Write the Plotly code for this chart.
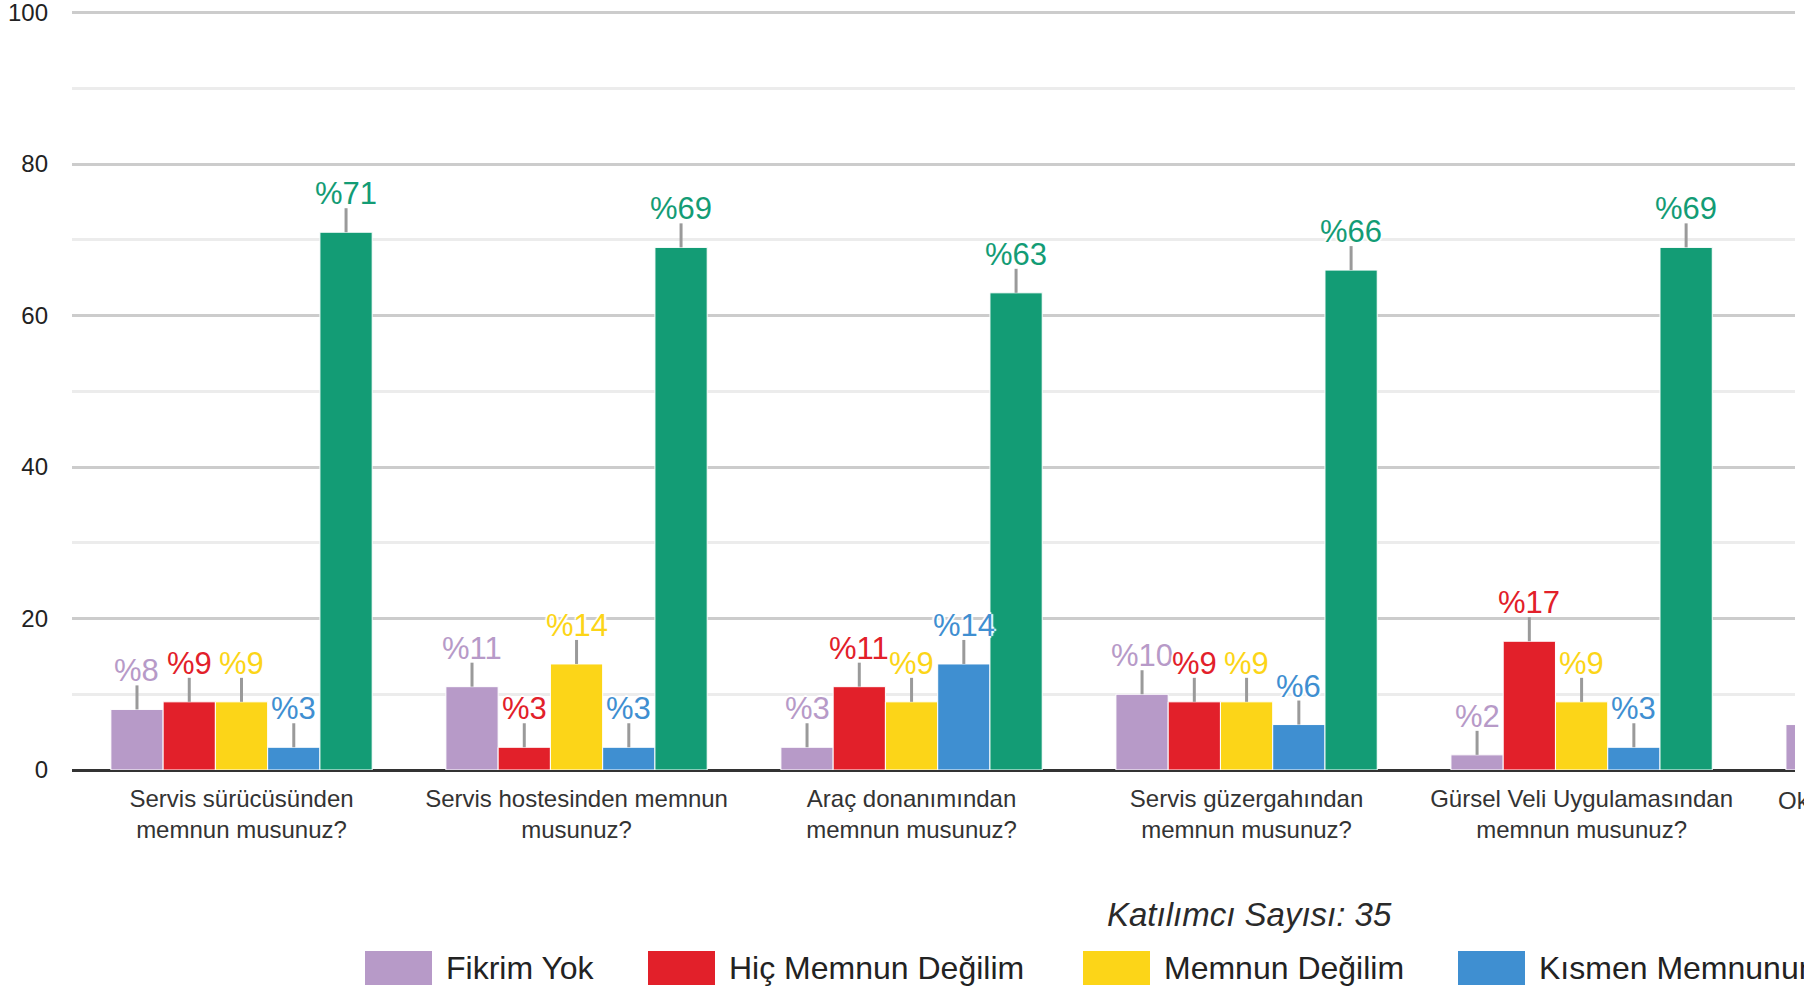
import plotly.graph_objects as go

# ---------------- data ----------------
categories = [
    "Servis sürücüsünden<br>memnun musunuz?",
    "Servis hostesinden memnun<br>musunuz?",
    "Araç donanımından<br>memnun musunuz?",
    "Servis güzergahından<br>memnun musunuz?",
    "Gürsel Veli Uygulamasından<br>memnun musunuz?",
    "Okul Servis Hizmetlerinden<br>memnun musunuz?",
]
series_names = ["Fikrim Yok", "Hiç Memnun Değilim", "Memnun Değilim", "Kısmen Memnunum", "Memnunum"]
fikrim_yok = [8, 11, 3, 10, 2, 6]
hic_memnun_degilim = [9, 3, 11, 9, 17, None]
memnun_degilim = [9, 14, 9, 9, 9, None]
kismen_memnunum = [3, 3, 14, 6, 3, None]
memnunum = [71, 69, 63, 66, 69, None]
y_ticks = [0, 20, 40, 60, 80, 100]
participant_text = "Katılımcı Sayısı: 35"

series_values = [fikrim_yok, hic_memnun_degilim, memnun_degilim, kismen_memnunum, memnunum]
colors = ["#B79AC8", "#E2202A", "#FCD518", "#3F8FD1", "#139C75"]

# ---------------- layout geometry ----------------
W, H = 1804, 989
YMAX = 101
Y0_PX, Y100_PX = 770, 13
UNIT = (Y0_PX - Y100_PX) / 100
ML, MR = 72, 9
MB = H - Y0_PX
MT = round(Y100_PX - (YMAX - 100) * UNIT)
PW = W - ML - MR
PH = H - MT - MB
XMIN, XMAX = -0.506, 4.637
BARGAP = 0.22
LEADER_PX = 24
n_series = len(series_values)

def px_x(px):
    return (px - ML) / PW

def px_y(py):
    return (H - MB - py) / PH

FONT = "Arial, Liberation Sans, sans-serif"
x_idx = list(range(len(categories)))
lead = LEADER_PX / UNIT

fig = go.Figure()
for name, vals, col in zip(series_names, series_values, colors):
    fig.add_trace(go.Bar(
        x=x_idx, y=vals, name=name,
        marker=dict(color=col, line=dict(color="white", width=1)),
        error_y=dict(type="data", symmetric=False,
                     array=[lead] * len(vals), arrayminus=[0] * len(vals),
                     color="#9a9a9a", thickness=3, width=0),
        showlegend=False,
    ))

# data labels
halo = "2px 0 1px #fff, -2px 0 1px #fff, 0 2px 1px #fff, 0 -2px 1px #fff"
annotations = []
group_w = 1 - BARGAP
bar_w = group_w / n_series
for j, (vals, col) in enumerate(zip(series_values, colors)):
    for i, v in enumerate(vals):
        if v is None:
            continue
        xc = i - group_w / 2 + bar_w * (j + 0.5)
        if xc < XMIN or xc > XMAX:
            continue
        annotations.append(dict(
            x=xc, y=v, xref="x", yref="y",
            text=f"%{v}", showarrow=False, borderpad=0,
            yanchor="bottom", xanchor="center", yshift=LEADER_PX - 4,
            font=dict(family=FONT, size=31, color=col, shadow=halo),
        ))

# label of the category that is cut off at the right edge
annotations.append(dict(
    x=(5 - XMIN) / (XMAX - XMIN), y=0, xref="paper", yref="paper",
    text=categories[5], showarrow=False, xanchor="center", yanchor="top",
    yshift=-15, xshift=6, font=dict(family=FONT, size=24, color="#333"),
))

# participant count
annotations.append(dict(
    x=px_x(1249), y=px_y(914), xref="paper", yref="paper",
    text=f"<i>{participant_text}</i>", showarrow=False,
    xanchor="center", yanchor="middle",
    font=dict(family=FONT, size=33, color="#2a2a2a"),
))

# custom legend
shapes = []
legend_x = [365, 648, 1083, 1458, 1840]
for name, col, lx in zip(series_names, colors, legend_x):
    shapes.append(dict(
        type="rect", xref="paper", yref="paper",
        x0=px_x(lx), x1=px_x(lx + 67), y0=px_y(985), y1=px_y(951),
        fillcolor=col, line=dict(width=0),
    ))
    annotations.append(dict(
        x=px_x(lx + 79), y=px_y(968), xref="paper", yref="paper",
        text=name, showarrow=False, xanchor="left", yanchor="middle",
        font=dict(family=FONT, size=32, color="#222"),
    ))

fig.update_layout(
    width=W, height=H,
    margin=dict(l=ML, r=MR, t=MT, b=MB, autoexpand=False),
    paper_bgcolor="white", plot_bgcolor="white",
    barmode="group", bargap=BARGAP, bargroupgap=0,
    showlegend=False,
    annotations=annotations, shapes=shapes,
    xaxis=dict(
        range=[XMIN, XMAX], tickvals=x_idx, ticktext=categories,
        showgrid=False, zeroline=False, showline=False,
        tickfont=dict(family=FONT, size=24, color="#333"),
        ticks="", tickangle=0, ticklabelstandoff=12,
        ticklabeloverflow="allow", automargin=False,
    ),
    yaxis=dict(
        range=[0, YMAX], tickvals=y_ticks,
        showgrid=True, gridcolor="#cccccc", gridwidth=3,
        minor=dict(dtick=10, showgrid=True, gridcolor="#ececec", gridwidth=3),
        zeroline=True, zerolinecolor="#333333", zerolinewidth=3,
        showline=False, ticks="",
        tickfont=dict(family=FONT, size=24, color="#222"),
        ticklabelstandoff=23, ticklabeloverflow="allow", automargin=False,
    ),
)

fig.write_html("out.html")
